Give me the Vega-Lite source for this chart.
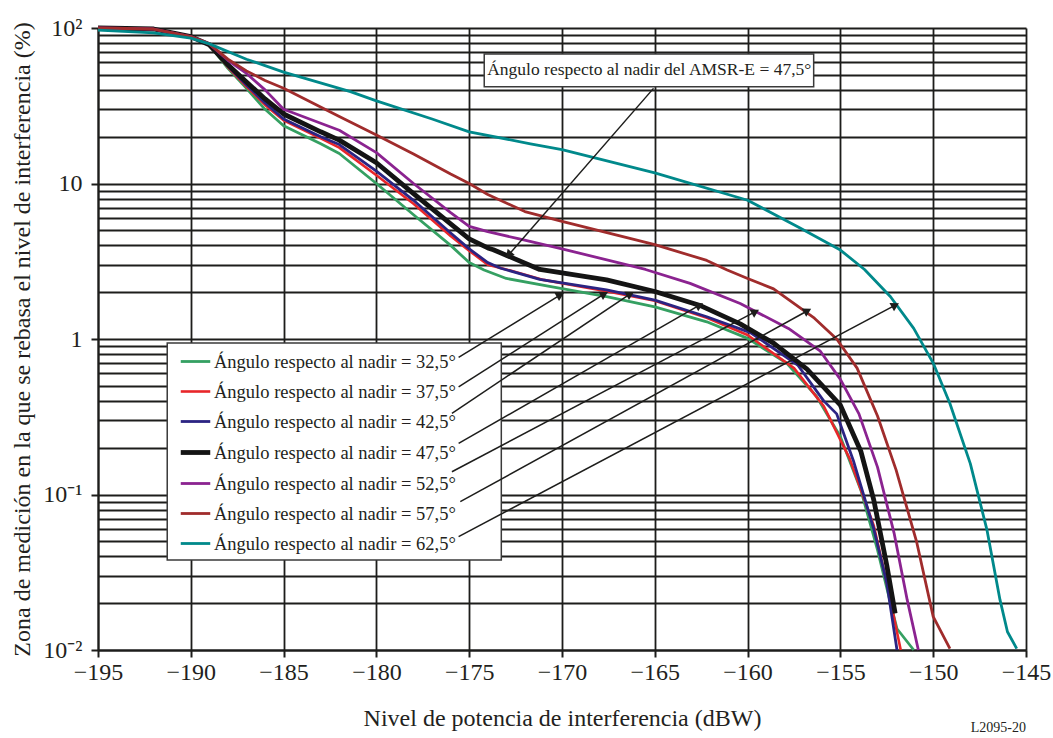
{
  "$schema": "https://vega.github.io/schema/vega-lite/v6.json",
  "width": 928,
  "height": 622,
  "autosize": {"type": "none"},
  "padding": {"left": 98, "top": 28, "right": 27, "bottom": 88},
  "background": "white",
  "config": {
    "font": "Liberation Serif",
    "view": {"stroke": null},
    "title": {"font": "Liberation Serif", "fontWeight": "normal"}
  },
  "title": {"text": "L2095-20", "orient": "bottom", "anchor": "end", "frame": "group", "fontSize": 14, "fontWeight": "normal", "color": "#231f20", "offset": -9},
  "datasets": {
    "curves": [
      {"serie": "Ángulo respecto al nadir = 32,5°", "x": -195, "y": 100},
      {"serie": "Ángulo respecto al nadir = 32,5°", "x": -192, "y": 98.5},
      {"serie": "Ángulo respecto al nadir = 32,5°", "x": -190, "y": 88},
      {"serie": "Ángulo respecto al nadir = 32,5°", "x": -189, "y": 78},
      {"serie": "Ángulo respecto al nadir = 32,5°", "x": -188, "y": 55},
      {"serie": "Ángulo respecto al nadir = 32,5°", "x": -187, "y": 41},
      {"serie": "Ángulo respecto al nadir = 32,5°", "x": -186, "y": 30},
      {"serie": "Ángulo respecto al nadir = 32,5°", "x": -185, "y": 23.5},
      {"serie": "Ángulo respecto al nadir = 32,5°", "x": -183, "y": 18},
      {"serie": "Ángulo respecto al nadir = 32,5°", "x": -182, "y": 15.6},
      {"serie": "Ángulo respecto al nadir = 32,5°", "x": -180, "y": 10},
      {"serie": "Ángulo respecto al nadir = 32,5°", "x": -178, "y": 6.3},
      {"serie": "Ángulo respecto al nadir = 32,5°", "x": -176, "y": 4.0},
      {"serie": "Ángulo respecto al nadir = 32,5°", "x": -175, "y": 3.1},
      {"serie": "Ángulo respecto al nadir = 32,5°", "x": -174.2, "y": 2.78},
      {"serie": "Ángulo respecto al nadir = 32,5°", "x": -173, "y": 2.45},
      {"serie": "Ángulo respecto al nadir = 32,5°", "x": -170.6, "y": 2.17},
      {"serie": "Ángulo respecto al nadir = 32,5°", "x": -167.6, "y": 1.87},
      {"serie": "Ángulo respecto al nadir = 32,5°", "x": -165, "y": 1.61},
      {"serie": "Ángulo respecto al nadir = 32,5°", "x": -162.2, "y": 1.29},
      {"serie": "Ángulo respecto al nadir = 32,5°", "x": -160, "y": 1.01},
      {"serie": "Ángulo respecto al nadir = 32,5°", "x": -157.9, "y": 0.7},
      {"serie": "Ángulo respecto al nadir = 32,5°", "x": -156.3, "y": 0.43},
      {"serie": "Ángulo respecto al nadir = 32,5°", "x": -155, "y": 0.235},
      {"serie": "Ángulo respecto al nadir = 32,5°", "x": -153.9, "y": 0.107},
      {"serie": "Ángulo respecto al nadir = 32,5°", "x": -153, "y": 0.044},
      {"serie": "Ángulo respecto al nadir = 32,5°", "x": -152.3, "y": 0.02},
      {"serie": "Ángulo respecto al nadir = 32,5°", "x": -151.95, "y": 0.0137},
      {"serie": "Ángulo respecto al nadir = 32,5°", "x": -151.05, "y": 0.01},

      {"serie": "Ángulo respecto al nadir = 37,5°", "x": -195, "y": 100},
      {"serie": "Ángulo respecto al nadir = 37,5°", "x": -192, "y": 98.5},
      {"serie": "Ángulo respecto al nadir = 37,5°", "x": -190, "y": 88},
      {"serie": "Ángulo respecto al nadir = 37,5°", "x": -189, "y": 78},
      {"serie": "Ángulo respecto al nadir = 37,5°", "x": -188, "y": 56},
      {"serie": "Ángulo respecto al nadir = 37,5°", "x": -187, "y": 42},
      {"serie": "Ángulo respecto al nadir = 37,5°", "x": -186, "y": 32},
      {"serie": "Ángulo respecto al nadir = 37,5°", "x": -185, "y": 25.5},
      {"serie": "Ángulo respecto al nadir = 37,5°", "x": -183, "y": 19.5},
      {"serie": "Ángulo respecto al nadir = 37,5°", "x": -182, "y": 17},
      {"serie": "Ángulo respecto al nadir = 37,5°", "x": -180, "y": 11.3},
      {"serie": "Ángulo respecto al nadir = 37,5°", "x": -178, "y": 7.4},
      {"serie": "Ángulo respecto al nadir = 37,5°", "x": -176, "y": 4.6},
      {"serie": "Ángulo respecto al nadir = 37,5°", "x": -175, "y": 3.7},
      {"serie": "Ángulo respecto al nadir = 37,5°", "x": -174, "y": 3.0},
      {"serie": "Ángulo respecto al nadir = 37,5°", "x": -173, "y": 2.8},
      {"serie": "Ángulo respecto al nadir = 37,5°", "x": -171, "y": 2.4},
      {"serie": "Ángulo respecto al nadir = 37,5°", "x": -167.6, "y": 2.03},
      {"serie": "Ángulo respecto al nadir = 37,5°", "x": -165, "y": 1.76},
      {"serie": "Ángulo respecto al nadir = 37,5°", "x": -162.2, "y": 1.37},
      {"serie": "Ángulo respecto al nadir = 37,5°", "x": -160, "y": 1.06},
      {"serie": "Ángulo respecto al nadir = 37,5°", "x": -157.5, "y": 0.65},
      {"serie": "Ángulo respecto al nadir = 37,5°", "x": -155.9, "y": 0.37},
      {"serie": "Ángulo respecto al nadir = 37,5°", "x": -154.5, "y": 0.17},
      {"serie": "Ángulo respecto al nadir = 37,5°", "x": -153.2, "y": 0.063},
      {"serie": "Ángulo respecto al nadir = 37,5°", "x": -152.5, "y": 0.027},
      {"serie": "Ángulo respecto al nadir = 37,5°", "x": -151.75, "y": 0.01},

      {"serie": "Ángulo respecto al nadir = 42,5°", "x": -195, "y": 100},
      {"serie": "Ángulo respecto al nadir = 42,5°", "x": -192, "y": 98.5},
      {"serie": "Ángulo respecto al nadir = 42,5°", "x": -190, "y": 88},
      {"serie": "Ángulo respecto al nadir = 42,5°", "x": -189, "y": 78},
      {"serie": "Ángulo respecto al nadir = 42,5°", "x": -188, "y": 57},
      {"serie": "Ángulo respecto al nadir = 42,5°", "x": -187, "y": 43},
      {"serie": "Ángulo respecto al nadir = 42,5°", "x": -186, "y": 33},
      {"serie": "Ángulo respecto al nadir = 42,5°", "x": -185, "y": 26},
      {"serie": "Ángulo respecto al nadir = 42,5°", "x": -183, "y": 20},
      {"serie": "Ángulo respecto al nadir = 42,5°", "x": -182, "y": 17.8},
      {"serie": "Ángulo respecto al nadir = 42,5°", "x": -180, "y": 12},
      {"serie": "Ángulo respecto al nadir = 42,5°", "x": -178, "y": 7.8},
      {"serie": "Ángulo respecto al nadir = 42,5°", "x": -176, "y": 4.8},
      {"serie": "Ángulo respecto al nadir = 42,5°", "x": -175, "y": 3.8},
      {"serie": "Ángulo respecto al nadir = 42,5°", "x": -174, "y": 3.1},
      {"serie": "Ángulo respecto al nadir = 42,5°", "x": -173.3, "y": 2.85},
      {"serie": "Ángulo respecto al nadir = 42,5°", "x": -171.2, "y": 2.42},
      {"serie": "Ángulo respecto al nadir = 42,5°", "x": -167.6, "y": 2.07},
      {"serie": "Ángulo respecto al nadir = 42,5°", "x": -165, "y": 1.78},
      {"serie": "Ángulo respecto al nadir = 42,5°", "x": -162.2, "y": 1.39},
      {"serie": "Ángulo respecto al nadir = 42,5°", "x": -159.85, "y": 1.1},
      {"serie": "Ángulo respecto al nadir = 42,5°", "x": -157.3, "y": 0.68},
      {"serie": "Ángulo respecto al nadir = 42,5°", "x": -155.9, "y": 0.4},
      {"serie": "Ángulo respecto al nadir = 42,5°", "x": -155.2, "y": 0.33},
      {"serie": "Ángulo respecto al nadir = 42,5°", "x": -154.3, "y": 0.165},
      {"serie": "Ángulo respecto al nadir = 42,5°", "x": -153.2, "y": 0.06},
      {"serie": "Ángulo respecto al nadir = 42,5°", "x": -152.5, "y": 0.027},
      {"serie": "Ángulo respecto al nadir = 42,5°", "x": -151.95, "y": 0.01},

      {"serie": "Ángulo respecto al nadir = 47,5°", "x": -195, "y": 100},
      {"serie": "Ángulo respecto al nadir = 47,5°", "x": -192, "y": 98.5},
      {"serie": "Ángulo respecto al nadir = 47,5°", "x": -190, "y": 88},
      {"serie": "Ángulo respecto al nadir = 47,5°", "x": -189, "y": 78},
      {"serie": "Ángulo respecto al nadir = 47,5°", "x": -188, "y": 58},
      {"serie": "Ángulo respecto al nadir = 47,5°", "x": -187, "y": 45},
      {"serie": "Ángulo respecto al nadir = 47,5°", "x": -186, "y": 35},
      {"serie": "Ángulo respecto al nadir = 47,5°", "x": -185, "y": 28},
      {"serie": "Ángulo respecto al nadir = 47,5°", "x": -183, "y": 21.5},
      {"serie": "Ángulo respecto al nadir = 47,5°", "x": -182, "y": 19},
      {"serie": "Ángulo respecto al nadir = 47,5°", "x": -180, "y": 13.6},
      {"serie": "Ángulo respecto al nadir = 47,5°", "x": -178, "y": 8.6},
      {"serie": "Ángulo respecto al nadir = 47,5°", "x": -176, "y": 5.5},
      {"serie": "Ángulo respecto al nadir = 47,5°", "x": -175, "y": 4.4},
      {"serie": "Ángulo respecto al nadir = 47,5°", "x": -174, "y": 3.85},
      {"serie": "Ángulo respecto al nadir = 47,5°", "x": -173.7, "y": 3.75},
      {"serie": "Ángulo respecto al nadir = 47,5°", "x": -171.2, "y": 2.8},
      {"serie": "Ángulo respecto al nadir = 47,5°", "x": -167.6, "y": 2.4},
      {"serie": "Ángulo respecto al nadir = 47,5°", "x": -165, "y": 2.02},
      {"serie": "Ángulo respecto al nadir = 47,5°", "x": -162.6, "y": 1.65},
      {"serie": "Ángulo respecto al nadir = 47,5°", "x": -160.4, "y": 1.25},
      {"serie": "Ángulo respecto al nadir = 47,5°", "x": -158.6, "y": 0.94},
      {"serie": "Ángulo respecto al nadir = 47,5°", "x": -156.8, "y": 0.64},
      {"serie": "Ángulo respecto al nadir = 47,5°", "x": -155, "y": 0.375},
      {"serie": "Ángulo respecto al nadir = 47,5°", "x": -153.9, "y": 0.19},
      {"serie": "Ángulo respecto al nadir = 47,5°", "x": -153.2, "y": 0.092},
      {"serie": "Ángulo respecto al nadir = 47,5°", "x": -152.5, "y": 0.035},
      {"serie": "Ángulo respecto al nadir = 47,5°", "x": -152.05, "y": 0.0172},

      {"serie": "Ángulo respecto al nadir = 52,5°", "x": -195, "y": 100},
      {"serie": "Ángulo respecto al nadir = 52,5°", "x": -192, "y": 98.5},
      {"serie": "Ángulo respecto al nadir = 52,5°", "x": -190, "y": 88},
      {"serie": "Ángulo respecto al nadir = 52,5°", "x": -189, "y": 79},
      {"serie": "Ángulo respecto al nadir = 52,5°", "x": -188, "y": 62},
      {"serie": "Ángulo respecto al nadir = 52,5°", "x": -187, "y": 51},
      {"serie": "Ángulo respecto al nadir = 52,5°", "x": -186, "y": 40},
      {"serie": "Ángulo respecto al nadir = 52,5°", "x": -185, "y": 30},
      {"serie": "Ángulo respecto al nadir = 52,5°", "x": -182, "y": 22},
      {"serie": "Ángulo respecto al nadir = 52,5°", "x": -180, "y": 15.8},
      {"serie": "Ángulo respecto al nadir = 52,5°", "x": -178, "y": 10},
      {"serie": "Ángulo respecto al nadir = 52,5°", "x": -176, "y": 6.5},
      {"serie": "Ángulo respecto al nadir = 52,5°", "x": -175, "y": 5.3},
      {"serie": "Ángulo respecto al nadir = 52,5°", "x": -174, "y": 4.9},
      {"serie": "Ángulo respecto al nadir = 52,5°", "x": -172.3, "y": 4.4},
      {"serie": "Ángulo respecto al nadir = 52,5°", "x": -170, "y": 3.8},
      {"serie": "Ángulo respecto al nadir = 52,5°", "x": -165.5, "y": 2.8},
      {"serie": "Ángulo respecto al nadir = 52,5°", "x": -163.1, "y": 2.28},
      {"serie": "Ángulo respecto al nadir = 52,5°", "x": -160.4, "y": 1.69},
      {"serie": "Ángulo respecto al nadir = 52,5°", "x": -157.8, "y": 1.17},
      {"serie": "Ángulo respecto al nadir = 52,5°", "x": -156.1, "y": 0.84},
      {"serie": "Ángulo respecto al nadir = 52,5°", "x": -155, "y": 0.55},
      {"serie": "Ángulo respecto al nadir = 52,5°", "x": -154, "y": 0.33},
      {"serie": "Ángulo respecto al nadir = 52,5°", "x": -153, "y": 0.15},
      {"serie": "Ángulo respecto al nadir = 52,5°", "x": -152.1, "y": 0.056},
      {"serie": "Ángulo respecto al nadir = 52,5°", "x": -151.4, "y": 0.021},
      {"serie": "Ángulo respecto al nadir = 52,5°", "x": -150.8, "y": 0.01},

      {"serie": "Ángulo respecto al nadir = 57,5°", "x": -195, "y": 100},
      {"serie": "Ángulo respecto al nadir = 57,5°", "x": -192, "y": 98.5},
      {"serie": "Ángulo respecto al nadir = 57,5°", "x": -190, "y": 88},
      {"serie": "Ángulo respecto al nadir = 57,5°", "x": -189, "y": 79},
      {"serie": "Ángulo respecto al nadir = 57,5°", "x": -188, "y": 63},
      {"serie": "Ángulo respecto al nadir = 57,5°", "x": -187, "y": 53},
      {"serie": "Ángulo respecto al nadir = 57,5°", "x": -186, "y": 46},
      {"serie": "Ángulo respecto al nadir = 57,5°", "x": -185, "y": 41},
      {"serie": "Ángulo respecto al nadir = 57,5°", "x": -182, "y": 27},
      {"serie": "Ángulo respecto al nadir = 57,5°", "x": -180, "y": 20.5},
      {"serie": "Ángulo respecto al nadir = 57,5°", "x": -178, "y": 15.5},
      {"serie": "Ángulo respecto al nadir = 57,5°", "x": -176, "y": 11.5},
      {"serie": "Ángulo respecto al nadir = 57,5°", "x": -175, "y": 10},
      {"serie": "Ángulo respecto al nadir = 57,5°", "x": -174, "y": 8.5},
      {"serie": "Ángulo respecto al nadir = 57,5°", "x": -172, "y": 6.6},
      {"serie": "Ángulo respecto al nadir = 57,5°", "x": -170, "y": 5.7},
      {"serie": "Ángulo respecto al nadir = 57,5°", "x": -165, "y": 4.05},
      {"serie": "Ángulo respecto al nadir = 57,5°", "x": -162.2, "y": 3.2},
      {"serie": "Ángulo respecto al nadir = 57,5°", "x": -161.1, "y": 2.78},
      {"serie": "Ángulo respecto al nadir = 57,5°", "x": -160, "y": 2.45},
      {"serie": "Ángulo respecto al nadir = 57,5°", "x": -158.6, "y": 2.1},
      {"serie": "Ángulo respecto al nadir = 57,5°", "x": -156.4, "y": 1.36},
      {"serie": "Ángulo respecto al nadir = 57,5°", "x": -155.2, "y": 1.0},
      {"serie": "Ángulo respecto al nadir = 57,5°", "x": -154.1, "y": 0.65},
      {"serie": "Ángulo respecto al nadir = 57,5°", "x": -153, "y": 0.32},
      {"serie": "Ángulo respecto al nadir = 57,5°", "x": -152, "y": 0.144},
      {"serie": "Ángulo respecto al nadir = 57,5°", "x": -150.9, "y": 0.05},
      {"serie": "Ángulo respecto al nadir = 57,5°", "x": -150, "y": 0.0164},
      {"serie": "Ángulo respecto al nadir = 57,5°", "x": -149.1, "y": 0.0102},

      {"serie": "Ángulo respecto al nadir = 62,5°", "x": -195, "y": 97},
      {"serie": "Ángulo respecto al nadir = 62,5°", "x": -192, "y": 93},
      {"serie": "Ángulo respecto al nadir = 62,5°", "x": -190, "y": 86},
      {"serie": "Ángulo respecto al nadir = 62,5°", "x": -189, "y": 79},
      {"serie": "Ángulo respecto al nadir = 62,5°", "x": -187, "y": 63},
      {"serie": "Ángulo respecto al nadir = 62,5°", "x": -185, "y": 52},
      {"serie": "Ángulo respecto al nadir = 62,5°", "x": -181.4, "y": 39},
      {"serie": "Ángulo respecto al nadir = 62,5°", "x": -180, "y": 34},
      {"serie": "Ángulo respecto al nadir = 62,5°", "x": -177, "y": 26},
      {"serie": "Ángulo respecto al nadir = 62,5°", "x": -175, "y": 21.5},
      {"serie": "Ángulo respecto al nadir = 62,5°", "x": -171.7, "y": 18},
      {"serie": "Ángulo respecto al nadir = 62,5°", "x": -170, "y": 16.5},
      {"serie": "Ángulo respecto al nadir = 62,5°", "x": -165, "y": 11.7},
      {"serie": "Ángulo respecto al nadir = 62,5°", "x": -160, "y": 7.8},
      {"serie": "Ángulo respecto al nadir = 62,5°", "x": -157.2, "y": 5.2},
      {"serie": "Ángulo respecto al nadir = 62,5°", "x": -155, "y": 3.73},
      {"serie": "Ángulo respecto al nadir = 62,5°", "x": -153.7, "y": 2.8},
      {"serie": "Ángulo respecto al nadir = 62,5°", "x": -152.3, "y": 1.87},
      {"serie": "Ángulo respecto al nadir = 62,5°", "x": -151.05, "y": 1.17},
      {"serie": "Ángulo respecto al nadir = 62,5°", "x": -150, "y": 0.7},
      {"serie": "Ángulo respecto al nadir = 62,5°", "x": -149.1, "y": 0.385},
      {"serie": "Ángulo respecto al nadir = 62,5°", "x": -148, "y": 0.158},
      {"serie": "Ángulo respecto al nadir = 62,5°", "x": -147.1, "y": 0.059},
      {"serie": "Ángulo respecto al nadir = 62,5°", "x": -146.4, "y": 0.021},
      {"serie": "Ángulo respecto al nadir = 62,5°", "x": -146, "y": 0.0131},
      {"serie": "Ángulo respecto al nadir = 62,5°", "x": -145.5, "y": 0.0102}
    ],
    "boxes": [
      {"x": -191.27, "x2": -173.27, "y": 0.942, "y2": 0.0379},
      {"x": -174.19, "x2": -156.44, "y": 68.1, "y2": 41.9}
    ],
    "arrows": [
      {"x": -170.09, "y": 1.92, "x2": -175.57, "y2": 0.762},
      {"x": -167.72, "y": 1.95, "x2": -175.57, "y2": 0.493},
      {"x": -166.32, "y": 1.95, "x2": -175.93, "y2": 0.333},
      {"x": -162.59, "y": 1.65, "x2": -175.57, "y2": 0.213},
      {"x": -159.58, "y": 1.5, "x2": -175.93, "y2": 0.14},
      {"x": -156.77, "y": 1.52, "x2": -175.48, "y2": 0.0899},
      {"x": -152.04, "y": 1.65, "x2": -175.57, "y2": 0.0536}
    ],
    "amsr": [
      {"x": -172.88, "y": 3.47, "x2": -165.07, "y2": 40.9}
    ],
    "labels": [
      {"x": -165.3, "y": 53.5, "t": "Ángulo respecto al nadir del AMSR-E = 47,5°"}
    ]
  },
  "encoding": {
    "x": {
      "field": "x", "type": "quantitative",
      "scale": {"domain": [-195, -145], "nice": false, "zero": false},
      "axis": {
        "title": "Nivel de potencia de interferencia (dBW)",
        "values": [-195, -190, -185, -180, -175, -170, -165, -160, -155, -150, -145],
        "grid": true, "gridColor": "#1d1d1b", "gridWidth": 1.8, "gridOpacity": 1,
        "domainColor": "#1d1d1b", "domainWidth": 2,
        "tickColor": "#1d1d1b", "tickWidth": 2, "tickSize": 7,
        "labelFont": "Liberation Serif", "labelFontSize": 24, "labelColor": "#231f20", "labelPadding": 3,
        "labelOverlap": false, "labelFlush": false,
        "titleFont": "Liberation Serif", "titleFontSize": 24, "titleFontWeight": "normal", "titleColor": "#231f20",
        "titleY": 68, "titleBaseline": "middle"
      }
    },
    "y": {
      "field": "y", "type": "quantitative",
      "scale": {"type": "log", "domain": [0.01, 100], "nice": false},
      "axis": {
        "title": "Zona de medición en la que se rebasa el nivel de interferencia (%)",
        "values": [0.01, 0.02, 0.03, 0.04, 0.05, 0.06, 0.07, 0.08, 0.09, 0.1, 0.2, 0.3, 0.4, 0.5, 0.6, 0.7, 0.8, 0.9, 1, 2, 3, 4, 5, 6, 7, 8, 9, 10, 20, 30, 40, 50, 60, 70, 80, 90, 100],
        "labelExpr": "datum.value == 100 ? '10²' : datum.value == 10 ? '10' : datum.value == 1 ? '1' : datum.value == 0.1 ? '10⁻¹' : datum.value == 0.01 ? '10⁻²' : ''",
        "grid": true, "gridColor": "#1d1d1b", "gridWidth": 1.8, "gridOpacity": 1,
        "domainColor": "#1d1d1b", "domainWidth": 2,
        "tickColor": "#1d1d1b", "tickWidth": 2, "tickSize": 7,
        "tickOpacity": {"condition": {"test": "abs(log(datum.value)/LN10 - round(log(datum.value)/LN10)) < 0.001", "value": 1}, "value": 0},
        "labelFont": "Liberation Serif", "labelFontSize": 24, "labelColor": "#231f20", "labelPadding": 9,
        "labelOverlap": false, "labelFlush": false, "labelBound": false,
        "titleFont": "Liberation Serif", "titleFontSize": 24, "titleFontWeight": "normal", "titleColor": "#231f20",
        "titleX": -76, "titleY": 311, "titleAngle": -90, "titleBaseline": "middle", "titleAlign": "center"
      }
    }
  },
  "layer": [
    {
      "data": {"name": "boxes"},
      "mark": {"type": "rect", "fill": "white", "stroke": "#3a3a3a", "strokeWidth": 1.5},
      "encoding": {"x2": {"field": "x2"}, "y2": {"field": "y2"}}
    },
    {
      "data": {"name": "curves"},
      "mark": {"type": "line", "strokeJoin": "round", "strokeCap": "butt"},
      "encoding": {
        "color": {
          "field": "serie", "type": "nominal",
          "scale": {
            "domain": ["Ángulo respecto al nadir = 32,5°", "Ángulo respecto al nadir = 37,5°", "Ángulo respecto al nadir = 42,5°", "Ángulo respecto al nadir = 47,5°", "Ángulo respecto al nadir = 52,5°", "Ángulo respecto al nadir = 57,5°", "Ángulo respecto al nadir = 62,5°"],
            "range": ["#35a062", "#e8262a", "#2b2483", "#141414", "#8b2390", "#a02c2c", "#00898b"]
          },
          "legend": {
            "orient": "none", "legendX": 80, "legendY": 317, "title": null,
            "symbolType": "stroke", "symbolSize": 870,
            "labelFont": "Liberation Serif", "labelFontSize": 18.5, "labelColor": "#231f20",
            "labelOffset": 1, "rowPadding": 4, "padding": 0, "labelLimit": 400
          }
        },
        "strokeWidth": {
          "field": "serie", "type": "nominal",
          "scale": {
            "type": "ordinal",
            "domain": ["Ángulo respecto al nadir = 32,5°", "Ángulo respecto al nadir = 37,5°", "Ángulo respecto al nadir = 42,5°", "Ángulo respecto al nadir = 47,5°", "Ángulo respecto al nadir = 52,5°", "Ángulo respecto al nadir = 57,5°", "Ángulo respecto al nadir = 62,5°"],
            "range": [2.8, 2.6, 2.8, 4.8, 2.8, 2.8, 2.8]
          }
        }
      }
    },
    {
      "data": {"name": "arrows"},
      "mark": {"type": "rule", "color": "#1d1d1b", "strokeWidth": 1.5},
      "encoding": {"x2": {"field": "x2"}, "y2": {"field": "y2"}}
    },
    {
      "data": {"name": "amsr"},
      "mark": {"type": "rule", "color": "#1d1d1b", "strokeWidth": 1.5},
      "encoding": {"x2": {"field": "x2"}, "y2": {"field": "y2"}}
    },
    {
      "data": {"name": "arrows"},
      "mark": {"type": "point", "shape": "triangle-up", "filled": true, "size": 90, "angle": 61, "color": "#1d1d1b", "opacity": 1}
    },
    {
      "data": {"name": "amsr"},
      "mark": {"type": "point", "shape": "triangle-up", "filled": true, "size": 90, "angle": 221, "color": "#1d1d1b", "opacity": 1}
    },
    {
      "data": {"name": "labels"},
      "mark": {"type": "text", "font": "Liberation Serif", "fontSize": 17.5, "color": "#231f20", "align": "center", "baseline": "middle"},
      "encoding": {"text": {"field": "t"}}
    }
  ]
}
